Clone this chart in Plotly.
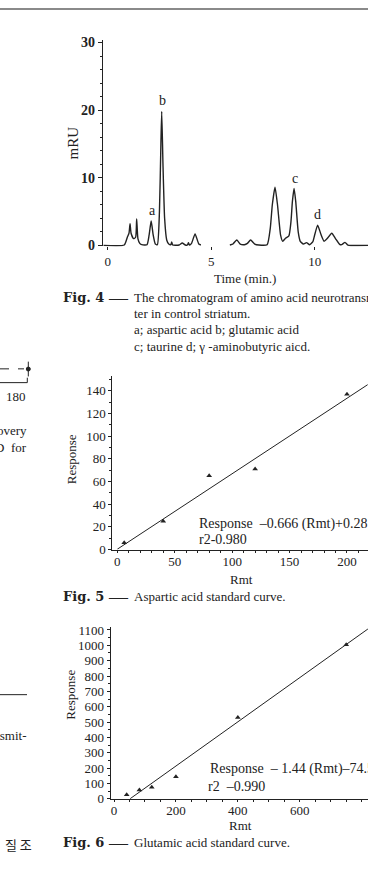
import plotly.graph_objects as go

W, H = 368, 880

# ---------------- data ----------------
# Fig. 4 chromatogram (time in min, signal in mRU)
chrom_time = [-0.2, 0.8, 0.95, 1.03, 1.08, 1.13, 1.25, 1.35, 1.40, 1.46, 1.55, 1.65, 1.9, 2.0, 2.1,
              2.2, 2.3, 2.4, 2.5, 2.57, 2.61, 2.67, 2.75, 2.85, 2.95, 3.05, 3.09, 3.14, 3.45, 3.6,
              3.75, 3.85, 3.9, 3.95, 4.05, 4.22, 4.4, 4.5, None, 5.9, 6.05, 6.23, 6.4, 6.6,
              6.75, 6.9, 7.1, 7.3, 7.7, 7.85, 7.95, 8.08, 8.2, 8.35, 8.45, 8.6, 8.75, 8.85, 8.92,
              9.0, 9.08, 9.2, 9.3, 9.45, 9.6, 9.75, 9.9, 10.0, 10.14, 10.3, 10.45, 10.6, 10.82,
              11.0, 11.2, 11.3, 11.46, 11.6, 12.6]
chrom_mru = [0.0, 0.05, 1.2, 1.8, 3.2, 1.8, 1.0, 1.2, 3.9, 1.0, 0.3, 0.1, 0.1, 1.5, 3.6,
             1.5, 0.2, 0.1, 5.0, 15.0, 19.8, 12.0, 4.0, 0.8, 0.2, 0.1, 0.5, 0.05, 0.05, 0.35,
             0.05, 0.05, 0.4, 0.05, 0.3, 1.7, 0.2, 0.05, None, 0.05, 0.2, 0.8, 0.2, 0.1,
             0.3, 0.8, 0.2, 0.05, 0.1, 2.5, 6.0, 8.6, 6.0, 1.5, 0.6, 1.1, 1.4, 3.5, 6.5,
             8.4, 6.5, 2.0, 0.6, 0.2, 0.4, 0.1, 0.5, 1.6, 3.0, 1.6, 0.6, 1.0, 1.8,
             1.0, 0.15, 0.1, 0.45, 0.05, 0.0]
peak_names = ["a", "b", "c", "d"]
peak_label_time = [2.17, 2.64, 9.05, 10.13]
peak_label_mru = [5.2, 21.4, 9.9, 4.6]

# Fig. 5 aspartic acid standard curve
asp_rmt = [6, 40, 80, 120, 200]
asp_resp = [6, 25, 65, 71, 137]
asp_slope, asp_icpt = 0.666, 0.28
asp_fit_rmt = [0, 218]

# Fig. 6 glutamic acid standard curve
glu_rmt = [41, 82, 122, 200, 400, 750]
glu_resp = [26, 58, 75, 144, 529, 1004]
glu_slope, glu_icpt = 1.44, -74.5
glu_fit_rmt = [51.7, 820]

# ---------------- helpers ----------------
def xp(px):
    return px / W

def yp(py):
    return 1 - py / H

INK = "#222222"
SERIF = "Liberation Serif"
BOLD = "DejaVu Serif"

fig = go.Figure()

fig.add_trace(go.Scatter(x=chrom_time, y=chrom_mru, mode="lines",
                         line=dict(color=INK, width=1.4, shape="spline", smoothing=0.5),
                         connectgaps=False, xaxis="x", yaxis="y", showlegend=False))

fig.add_trace(go.Scatter(x=asp_fit_rmt, y=[asp_slope * r + asp_icpt for r in asp_fit_rmt],
                         mode="lines", line=dict(color=INK, width=1),
                         xaxis="x2", yaxis="y2", showlegend=False))
fig.add_trace(go.Scatter(x=asp_rmt, y=asp_resp, mode="markers",
                         marker=dict(symbol="triangle-up", size=5, color=INK),
                         xaxis="x2", yaxis="y2", showlegend=False))

fig.add_trace(go.Scatter(x=glu_fit_rmt, y=[glu_slope * r + glu_icpt for r in glu_fit_rmt],
                         mode="lines", line=dict(color=INK, width=1),
                         xaxis="x3", yaxis="y3", showlegend=False))
fig.add_trace(go.Scatter(x=glu_rmt, y=glu_resp, mode="markers",
                         marker=dict(symbol="triangle-up", size=5, color=INK),
                         xaxis="x3", yaxis="y3", showlegend=False))

tick_font = dict(family=SERIF, size=13, color=INK)
common = dict(showgrid=False, zeroline=False, linecolor=INK, linewidth=1, tickcolor=INK,
              ticks="outside", tickwidth=1)

fig.update_layout(
    width=W, height=H, margin=dict(l=0, r=0, t=0, b=0),
    paper_bgcolor="white", plot_bgcolor="white",
    xaxis=dict(domain=[xp(102.7), 1], range=[-0.24, 12.57], anchor="y", showline=False,
               tickvals=[0, 5, 10], ticklen=3, tickfont=tick_font, **common),
    yaxis=dict(domain=[yp(245.0), yp(36.0)], range=[-0.15, 30.3], anchor="x", showline=True,
               tickvals=[0, 10, 20, 30], ticklen=4,
               minor=dict(dtick=2, ticklen=2, tickcolor=INK, ticks="outside"),
               tickfont=dict(family=SERIF, size=14, color=INK, weight="bold"), **common),
    xaxis2=dict(domain=[xp(112.3), 1], range=[-4.35, 218.3], anchor="y2", showline=True,
                dtick=50, tick0=0, ticklen=2, ticklabelstandoff=-2,
                minor=dict(dtick=10, ticklen=2, tickcolor=INK, ticks="outside"),
                tickfont=tick_font, **common),
    yaxis2=dict(domain=[yp(552.7), yp(376.7)], range=[0, 153], anchor="x2", showline=True,
                dtick=20, tick0=0, ticklen=3,
                minor=dict(dtick=10, ticklen=2, tickcolor=INK, ticks="outside"),
                tickfont=tick_font, **common),
    xaxis3=dict(domain=[xp(110.7), 1], range=[-10.66, 820.4], anchor="y3", showline=True,
                dtick=200, tick0=0, ticklen=2, ticklabelstandoff=-2,
                minor=dict(dtick=50, ticklen=2, tickcolor=INK, ticks="outside"),
                tickfont=tick_font, **common),
    yaxis3=dict(domain=[yp(805.7), yp(631.7)], range=[0, 1117], anchor="x3", showline=True,
                dtick=100, tick0=0, ticklen=3,
                minor=dict(dtick=50, ticklen=2, tickcolor=INK, ticks="outside"),
                tickfont=tick_font, **common),
)

ann = []

def text(px, py, s, size=13, family=SERIF, anchor="left", angle=0, weight="normal", color=INK):
    ann.append(dict(x=xp(px), y=yp(py), xref="paper", yref="paper", text=s, showarrow=False,
                    xanchor=anchor, yanchor="middle", textangle=angle,
                    font=dict(family=family, size=size, color=color, weight=weight)))

# peak labels (data coords)
for name, t, v in zip(peak_names, peak_label_time, peak_label_mru):
    ann.append(dict(x=t, y=v, xref="x", yref="y", text=name, showarrow=False,
                    font=dict(family=SERIF, size=14, color=INK)))

# axis titles
text(72.5, 140, "mRU", size=15, anchor="center", angle=-90)
text(245, 278, "Time (min.)", anchor="center")
text(71, 461, "Response", anchor="center", angle=-90)
text(241.5, 583, "Rmt", anchor="center")
text(71, 700, "Response", anchor="center", angle=-90)
text(240, 833.3, "Rmt", anchor="center")

# equations
text(197.3, 526.7, "Response  \u20130.666 (Rmt)+0.28", size=14)
text(197.3, 542.5, "r2-0.980", size=14)
text(208.3, 775, "Response  \u2013 1.44 (Rmt)\u201374.5", size=14)
text(205.7, 793.3, "r2  \u20130.990", size=14)

# captions
def caption(py, num, lines, dy=16.6):
    text(61, py, "Fig. " + num, size=13, family=BOLD, weight="bold")
    text(118.5, py, "\u2014", size=19, anchor="center")
    for i, ln in enumerate(lines):
        text(131.7, py + i * dy, ln)

caption(296.5, "4", ["The chromatogram of amino acid neurotransmit-",
                     "ter in control striatum.",
                     "a; aspartic acid b; glutamic acid",
                     "c; taurine d; \u03b3 -aminobutyric aicd."])
caption(600, "5", ["Aspartic acid standard curve."])
caption(850, "6", ["Glutamic acid standard curve."])

# fragments of neighbouring page content (left column)
text(28, 397, "180", anchor="right")
text(28.5, 431.7, "overy", anchor="right")
text(28.5, 449.3, "D  for", anchor="right")
text(28.5, 741.7, "asmit-", anchor="right")
text(3, 851.7, "\uc9c8 \uc870", size=13, family="Noto Sans CJK KR")

shapes = [
    dict(type="line", xref="paper", yref="paper", x0=0, x1=1, y0=yp(4), y1=yp(4),
         line=dict(color="#8a8a8a", width=2)),
    dict(type="line", xref="paper", yref="paper", x0=0, x1=xp(27.3), y0=yp(383.3), y1=yp(383.3),
         line=dict(color=INK, width=1)),
    dict(type="line", xref="paper", yref="paper", x0=xp(27.3), x1=xp(27.3), y0=yp(383.3), y1=yp(378.3),
         line=dict(color=INK, width=1)),
    dict(type="line", xref="paper", yref="paper", x0=0, x1=xp(24), y0=yp(369.3), y1=yp(369.3),
         line=dict(color=INK, width=1, dash="dash")),
    dict(type="line", xref="paper", yref="paper", x0=xp(28.3), x1=xp(28.3), y0=yp(362), y1=yp(377),
         line=dict(color=INK, width=1)),
    dict(type="circle", xref="paper", yref="paper", x0=xp(26.3), x1=xp(30.3), y0=yp(367.5), y1=yp(371.5),
         fillcolor=INK, line=dict(color=INK, width=1)),
    dict(type="line", xref="paper", yref="paper", x0=0, x1=xp(27), y0=yp(700), y1=yp(700),
         line=dict(color=INK, width=1)),
]

fig.update_layout(annotations=ann, shapes=shapes)
fig.write_html("out.html")
